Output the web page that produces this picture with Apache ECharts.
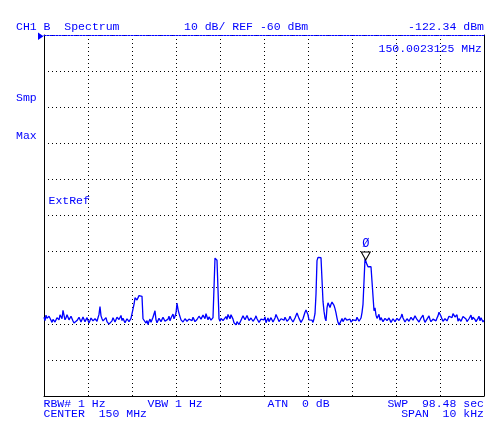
<!DOCTYPE html>
<html><head><meta charset="utf-8">
<script src="https://cdn.jsdelivr.net/npm/echarts@6/dist/echarts.min.js"></script>
<style>html,body{margin:0;padding:0;background:#fff}#c{width:495px;height:429px}</style>
</head><body><div id="c"></div>
<script>
// Sweep: center 150 MHz, span 10 kHz (x in kHz offset from center)
const centerMHz = 150;
const spanKHz = 10;
const refLevel = -60;     // dBm, top of screen
const dbPerDiv = 10;
const yTicks = [-160,-150,-140,-130,-120,-110,-100,-90,-80,-70,-60];
const xTicks = [-5,-4,-3,-2,-1,0,1,2,3,4,5];

// trace amplitudes (dBm), one per sweep point (441 points)
const traceDbm = [
-138.2,-139.1,-137.6,-138.5,-138.9,-137.9,-138.1,-139.0,-139.6,-138.8,
-138.4,-139.5,-139.2,-138.3,-138.0,-138.9,-137.5,-137.2,-138.6,-136.3,
-137.6,-138.9,-138.3,-137.5,-137.8,-138.9,-138.7,-137.9,-138.0,-139.2,
-139.8,-140.0,-140.3,-139.1,-139.5,-138.2,-138.6,-139.5,-139.2,-138.1,
-138.4,-139.4,-139.0,-138.3,-138.7,-139.8,-139.3,-138.4,-138.5,-139.2,
-139.4,-138.6,-138.2,-139.3,-138.9,-137.4,-135.2,-137.8,-138.6,-139.2,
-139.5,-138.7,-138.3,-139.4,-139.9,-140.1,-140.4,-139.6,-139.2,-138.3,
-138.6,-139.5,-139.4,-138.2,-137.9,-138.8,-138.6,-137.7,-139.1,-138.5,
-138.4,-139.7,-139.5,-138.6,-138.8,-139.4,-139.6,-138.5,-138.9,-138.0,
-134.6,-132.8,-132.6,-133.4,-132.9,-132.2,-132.1,-132.7,-132.4,-138.6,
-139.0,-138.4,-139.8,-139.1,-140.2,-139.3,-138.7,-139.6,-139.3,-138.2,
-137.8,-136.4,-138.9,-139.7,-139.6,-138.5,-138.4,-139.4,-139.3,-138.2,
-138.6,-139.3,-139.8,-138.9,-138.7,-137.9,-139.2,-138.4,-138.1,-137.3,
-138.6,-137.9,-137.0,-134.3,-136.0,-137.1,-137.6,-138.9,-138.8,-139.5,
-139.4,-138.6,-138.5,-139.3,-139.6,-138.7,-138.3,-139.0,-139.1,-138.2,
-138.6,-139.4,-139.7,-138.8,-138.4,-137.9,-137.6,-138.7,-138.5,-137.6,
-137.8,-138.6,-137.2,-137.0,-138.9,-138.1,-138.2,-139.0,-139.1,-138.3,
-138.4,-121.8,-121.4,-122.4,-122.9,-138.6,-139.3,-138.5,-138.3,-139.1,
-139.4,-138.6,-138.0,-138.8,-137.4,-137.9,-138.6,-137.5,-137.8,-138.7,
-139.7,-140.0,-140.3,-139.4,-139.5,-140.2,-139.9,-139.0,-138.4,-137.8,
-137.9,-138.9,-138.8,-137.7,-138.2,-139.1,-139.0,-138.4,-138.3,-139.3,
-139.4,-138.5,-137.8,-138.6,-138.9,-139.6,-139.5,-138.7,-138.2,-139.0,
-138.9,-138.1,-139.7,-139.0,-138.4,-139.4,-139.2,-138.3,-138.6,-139.5,
-139.8,-138.4,-137.4,-136.9,-138.7,-139.4,-139.3,-138.6,-138.1,-139.1,
-139.0,-138.2,-138.4,-139.3,-139.6,-138.7,-137.9,-138.6,-138.8,-139.5,
-139.3,-138.4,-138.5,-137.0,-137.3,-138.5,-138.9,-139.6,-139.5,-138.6,
-138.2,-136.8,-136.2,-136.6,-137.5,-138.9,-139.4,-138.5,-139.0,-139.6,
-138.6,-137.2,-131.8,-122.5,-121.6,-121.5,-121.3,-121.7,-122.1,-133.8,
-136.5,-138.4,-139.2,-135.6,-134.2,-133.9,-135.5,-134.6,-134.0,-134.3,
-134.9,-135.8,-137.0,-138.4,-139.6,-140.3,-140.1,-139.2,-138.5,-139.4,
-139.3,-138.4,-138.1,-139.0,-139.5,-138.6,-138.7,-139.5,-139.8,-138.9,
-138.4,-139.2,-139.1,-138.2,-138.6,-139.3,-139.4,-138.4,-136.9,-134.6,
-134.8,-122.0,-122.3,-123.6,-124.2,-123.8,-123.7,-124.2,-123.9,-124.0,
-136.4,-135.6,-137.6,-138.5,-138.2,-137.4,-139.0,-138.3,-138.4,-139.4,
-139.6,-138.5,-138.3,-139.1,-139.2,-138.4,-138.7,-139.6,-139.5,-138.6,
-138.6,-139.4,-139.3,-138.5,-138.2,-139.1,-139.0,-138.1,-137.3,-138.4,
-138.8,-139.5,-139.4,-138.6,-138.4,-139.3,-139.1,-138.2,-138.3,-139.0,
-138.9,-137.8,-137.9,-138.8,-138.6,-139.5,-139.3,-138.4,-138.1,-137.6,
-138.9,-139.6,-139.5,-138.7,-138.3,-137.8,-138.8,-139.4,-139.6,-138.7,
-138.2,-139.0,-139.2,-138.4,-137.8,-136.8,-136.9,-137.9,-138.7,-139.3,
-139.4,-138.6,-138.5,-139.2,-139.0,-137.9,-137.6,-138.4,-138.3,-137.2,
-137.4,-138.1,-138.6,-137.5,-139.3,-138.6,-138.4,-139.3,-139.0,-138.0,
-137.8,-138.4,-138.7,-139.4,-139.5,-138.6,-138.1,-137.6,-138.9,-138.2,
-137.9,-138.8,-139.4,-139.8,-138.5,-137.9,-139.2,-138.3,-138.4,-139.5,
-139.0
];

// marker 0
const markerKHz = 2.3125;     // 150.0023125 MHz
const markerDbm = -122.34;

const headerLeft = 'CH1 B  Spectrum';
const headerMid = '10 dB/ REF -60 dBm';
const headerRight = '-122.34 dBm';
const markerFreqText = '150.0023125 MHz';
const sideLabels = ['Smp', 'Max'];
const extRefText = 'ExtRef';
const footRow1 = ['RBW# 1 Hz', 'VBW 1 Hz', 'ATN  0 dB', 'SWP  98.48 sec'];
const footRow2 = ['CENTER  150 MHz', 'SPAN  10 kHz'];

const n = traceDbm.length;
const seriesData = traceDbm.map((v, i) => [-spanKHz / 2 + i * spanKHz / (n - 1), v]);

const BLUE = '#0000ff';
const FONT = '11.5px "Liberation Mono", "DejaVu Sans Mono", monospace';
function txt(x, y, s, align) {
  return { type: 'text', x: x, y: y, silent: true,
    style: { text: s, font: FONT, fill: BLUE, textAlign: align || 'left', textVerticalAlign: 'middle' } };
}

const chart = echarts.init(document.getElementById('c'), null, { renderer: 'canvas' });
const dotted = { color: '#000', width: 1, type: [1, 3] };
chart.setOption({
  animation: false,
  backgroundColor: '#fff',
  grid: { left: 44, right: 11, top: 35, bottom: 33, show: false },
  xAxis: [
    { type: 'value', min: xTicks[0], max: xTicks[xTicks.length - 1], interval: 1, position: 'bottom',
      axisLine: { show: true, onZero: false, lineStyle: { color: '#000', width: 1 } },
      axisTick: { show: false }, axisLabel: { show: false },
      splitLine: { show: true, lineStyle: dotted } },
    { type: 'value', min: xTicks[0], max: xTicks[xTicks.length - 1], interval: 1, position: 'top',
      axisLine: { show: true, onZero: false, lineStyle: { color: BLUE, width: 1, type: [2, 1] } },
      axisTick: { show: false }, axisLabel: { show: false }, splitLine: { show: false } }
  ],
  yAxis: [
    { type: 'value', min: yTicks[0], max: yTicks[yTicks.length - 1], interval: dbPerDiv, position: 'left',
      axisLine: { show: true, onZero: false, lineStyle: { color: '#000', width: 1 } },
      axisTick: { show: false }, axisLabel: { show: false },
      splitLine: { show: true, lineStyle: dotted } },
    { type: 'value', min: yTicks[0], max: yTicks[yTicks.length - 1], interval: dbPerDiv, position: 'right',
      axisLine: { show: true, onZero: false, lineStyle: { color: '#000', width: 1 } },
      axisTick: { show: false }, axisLabel: { show: false }, splitLine: { show: false } }
  ],
  series: [{
    type: 'line', xAxisIndex: 0, yAxisIndex: 0, data: seriesData,
    showSymbol: false, symbol: 'none', sampling: null,
    lineStyle: { color: BLUE, width: 1.3 },
    markPoint: {
      silent: true,
      data: [{ coord: [markerKHz, markerDbm] }],
      symbol: 'triangle', symbolSize: [9, 8], symbolRotate: 180, symbolOffset: [0, -4],
      itemStyle: { color: '#fff', borderColor: '#000', borderWidth: 1 },
      label: { show: true, position: 'top', distance: 2, formatter: 'Ø', color: BLUE,
        fontFamily: '"Liberation Mono", monospace', fontSize: 12 }
    }
  }],
  graphic: [
    txt(16, 26.5, headerLeft),
    txt(184, 26.5, headerMid),
    txt(484, 26.5, headerRight, 'right'),
    txt(482, 48.5, markerFreqText, 'right'),
    txt(16, 97.5, sideLabels[0]),
    txt(16, 136, sideLabels[1]),
    txt(48.5, 201, extRefText),
    txt(43.5, 403.5, footRow1[0]),
    txt(147.5, 403.5, footRow1[1]),
    txt(267.5, 403.5, footRow1[2]),
    txt(484, 403.5, footRow1[3], 'right'),
    txt(43.5, 413.5, footRow2[0]),
    txt(484, 413.5, footRow2[1], 'right'),
    { type: 'polygon', silent: true, shape: { points: [[38, 32.5], [43.5, 36.3], [38, 40]] }, style: { fill: BLUE } }
  ]
});
</script></body></html>
